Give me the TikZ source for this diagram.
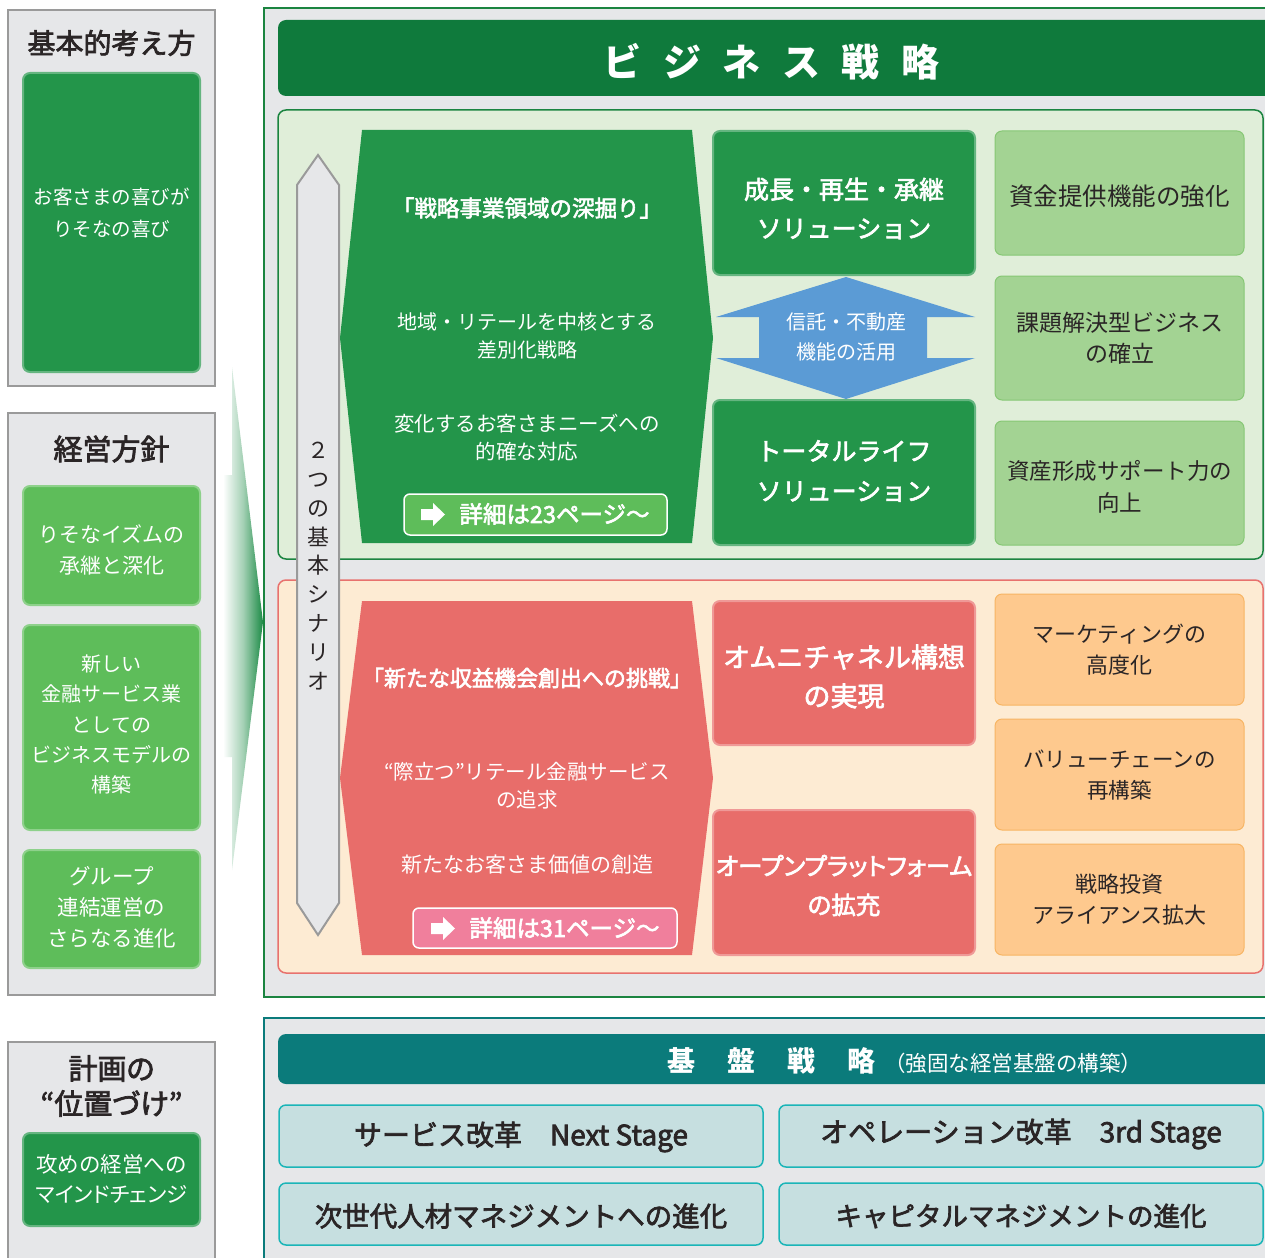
\documentclass[tikz,border=0pt]{standalone}
\usepackage{fontspec}
\setmainfont{Noto Sans CJK JP}
\newfontfamily\pf{Noto Sans CJK JP}[RawFeature=+palt]
\newfontfamily\mf{Noto Sans CJK JP}[FakeBold=2.5]
\newfontfamily\mpf{Noto Sans CJK JP}[FakeBold=2.5,RawFeature=+palt]
\newcommand{\myfs}[2]{\fontsize{#1}{#2}\selectfont}
\definecolor{lgray}{HTML}{E6E7E9}
\definecolor{bgray}{HTML}{9A9A9A}
\definecolor{dgreen}{HTML}{23954A}
\definecolor{hgreen}{HTML}{0F7A3C}
\definecolor{mainborder}{HTML}{1B8440}
\definecolor{mgreen}{HTML}{5EBD5A}
\definecolor{gpanel}{HTML}{E0EED9}
\definecolor{lgbox}{HTML}{A3D393}
\definecolor{lgboxb}{HTML}{86C774}
\definecolor{bluearr}{HTML}{5B9BD5}
\definecolor{redbox}{HTML}{E86D6A}
\definecolor{pinkbtn}{HTML}{F07F9C}
\definecolor{opanel}{HTML}{FDEBD3}
\definecolor{oborder}{HTML}{E8726E}
\definecolor{obox}{HTML}{FEC98E}
\definecolor{oboxb}{HTML}{F7B563}
\definecolor{teal}{HTML}{0B7B7B}
\definecolor{tealbox}{HTML}{C6DFE0}
\definecolor{tealboxb}{HTML}{1AB5B8}
\definecolor{txtdark}{HTML}{2A2526}
\definecolor{arrgreen}{HTML}{1B8A45}
\begin{document}
\begin{tikzpicture}[x=1pt,y=-1pt,
  outerbox/.style={draw=bgray, fill=lgray, line width=1.6},
  titletxt/.style={text=txtdark, font=\mf\myfs{29}{35}, align=center, inner sep=0},
  basebox/.style={rounded corners=7, line width=2, inner sep=0},
  dgbox/.style={basebox, fill=dgreen, draw=dgreen!70!white},
  mgbox/.style={basebox, fill=mgreen, draw=mgreen!70!white},
  rdbox/.style={basebox, fill=redbox, draw=redbox!70!white},
  lgbx/.style={basebox, line width=1, fill=lgbox, draw=lgboxb},
  orbx/.style={basebox, line width=1, fill=obox, draw=oboxb},
  tlbx/.style={basebox, line width=1.5, fill=tealbox, draw=tealboxb},
  wtxt/.style={text=white, align=center, inner sep=0},
  dtxt/.style={text=txtdark, align=center, inner sep=0},
  btn/.style={rounded corners=6, draw=white, line width=1.5, inner sep=0},
]
\useasboundingbox (0,0) rectangle (1265,1257);
\fill[white] (0,0) rectangle (1265,1257);

% ---------- left column ----------
\node[outerbox, minimum width=207, minimum height=376] (o1) at (111.5,198) {};
\node[titletxt, font=\mf\myfs{28}{35}] (o1t) at (111.5,43) {基本的考え方};
\node[dgbox, minimum width=177, minimum height=299] (g1) at (111.5,222.5) {};
\node[wtxt, font=\myfs{19.5}{32}] (g1t) at (111.5,213) {お客さまの喜びが\\りそなの喜び};

\node[outerbox, minimum width=207, minimum height=582] (o2) at (111.5,704) {};
\node[titletxt] (o2t) at (111.5,449) {経営方針};
\node[mgbox, minimum width=177, minimum height=119] (g2a) at (111.5,545.5) {};
\node[wtxt, font=\myfs{21}{31}] (g2at) at (111.5,549.5) {りそなイズムの\\承継と深化};
\node[mgbox, minimum width=177, minimum height=205] (g2b) at (111.5,727.5) {};
\node[wtxt, font=\myfs{20}{30.2}] (g2bt) at (111.5,724.5) {新しい\\金融サービス業\\としての\\ビジネスモデルの\\構築};
\node[mgbox, minimum width=177, minimum height=118] (g2c) at (111.5,909) {};
\node[wtxt, font=\myfs{21.5}{31}] (g2ct) at (111.5,907) {グループ\\連結運営の\\さらなる進化};

\node[outerbox, minimum width=207, minimum height=240] (o3) at (111.5,1162) {};
\node[titletxt, font=\mpf\myfs{29}{35}] (o3t) at (111.5,1086) {計画の\\“位置づけ”};
\node[dgbox, minimum width=177, minimum height=93] (g3) at (111.5,1179.5) {};
\node[wtxt, font=\myfs{21.5}{30}] (g3t) at (111.5,1179) {攻めの経営への\\{\pf マインドチェンジ}};

% big gradient arrow
\shade[left color=white, right color=arrgreen, middle color=arrgreen!40!white]
  (223,475) -- (232,475) -- (232,367) -- (263,622) -- (232,870) -- (232,757) -- (223,757) -- cycle;

% ---------- business strategy ----------
\draw[fill=lgray, draw=mainborder, line width=2] (264,8) rectangle (1285,997);
\node[rounded corners=8, fill=hgreen, minimum width=1007, minimum height=76, inner sep=0] (hdr) at (781.5,58) {};
\node[wtxt, font=\myfs{38}{44}\bfseries] (hdrt) at (771.5,62) {\makebox[59.5pt]{ビ}\makebox[59.5pt]{ジ}\makebox[59.5pt]{ネ}\makebox[59.5pt]{ス}\makebox[59.5pt]{戦}\makebox[59.5pt]{略}};

% green panel
\draw[rounded corners=8, fill=gpanel, draw=mainborder, line width=1.5] (278,110) rectangle (1263,559);
% orange panel
\draw[rounded corners=8, fill=opanel, draw=oborder, line width=1.5] (278,580) rectangle (1263,973);

% vertical double arrow
\draw[fill=lgray, draw=bgray, line width=2] (318,155) -- (339,185) -- (339,903) -- (318,935) -- (297,903) -- (297,185) -- cycle;
\node[dtxt, font=\myfs{22}{28.8}] (scen) at (318,566) {２\\つ\\の\\基\\本\\シ\\ナ\\リ\\オ};

% green hexagon
\fill[dgreen] (362,130) -- (692,130) -- (713,338) -- (692,543) -- (362,543) -- (340,338) -- cycle;
\node[wtxt, font=\mf\myfs{22.5}{28}] (gh1) at (527,208) {「戦略事業領域の深掘り」};
\node[wtxt, font=\myfs{20}{28}] (gh2) at (527,336) {地域・リテールを中核とする\\差別化戦略};
\node[wtxt, font=\myfs{20.5}{28}] (gh3) at (527,438) {変化するお客さまニーズへの\\的確な対応};
\node[btn, fill=mgreen, minimum width=263, minimum height=41] (b1) at (535.5,514.5) {};
\fill[white] (421,509) -- (433,509) -- (433,503) -- (445,514.5) -- (433,526) -- (433,520) -- (421,520) -- cycle;
\node[wtxt, font=\mf\myfs{23.5}{26}] (b1t) at (554.5,514) {詳細は23ページ〜};

% dark green boxes + blue arrow
\node[dgbox, minimum width=262, minimum height=144] (s1) at (844,203) {};
\node[wtxt, font=\mf\myfs{25}{39}] (s1t) at (844,208.5) {成長・再生・承継\\ソリューション};
\node[dgbox, minimum width=262, minimum height=145] (s2) at (844,472.5) {};
\node[wtxt, font=\mf\myfs{25}{40}] (s2t) at (844,471) {トータルライフ\\ソリューション};
\fill[bluearr] (846,277) -- (975,317) -- (927,317) -- (927,358) -- (975,358) -- (846,399) -- (716,358) -- (759,358) -- (759,317) -- (716,317) -- cycle;
\node[wtxt, font=\myfs{20}{30}] (bl) at (846,337) {信託・不動産\\機能の活用};

% light green boxes
\node[lgbx, minimum width=249, minimum height=124] (r1) at (1119.5,193) {};
\node[dtxt, font=\myfs{24.5}{31}] (r1t) at (1119.5,196) {資金提供機能の強化};
\node[lgbx, minimum width=249, minimum height=124] (r2) at (1119.5,338) {};
\node[dtxt, font=\myfs{23}{31}] (r2t) at (1119.5,338.5) {課題解決型ビジネス\\の確立};
\node[lgbx, minimum width=249, minimum height=124] (r3) at (1119.5,483) {};
\node[dtxt, font=\myfs{22.5}{32}] (r3t) at (1119.5,487) {資産形成サポート力の\\向上};

% red hexagon
\fill[redbox] (362,601) -- (692,601) -- (713,778) -- (692,955) -- (362,955) -- (340,778) -- cycle;
\node[wtxt, font=\mf\myfs{22}{28}] (rh1) at (527,678) {「新たな収益機会創出への挑戦」};
\node[wtxt, font=\myfs{20.5}{28}] (rh2) at (527,786) {“際立つ”リテール金融サービス\\の追求};
\node[wtxt, font=\myfs{21}{28}] (rh3) at (527,865) {新たなお客さま価値の創造};
\node[btn, fill=pinkbtn, minimum width=264, minimum height=40] (b2) at (545,928) {};
\fill[white] (431,923) -- (443,923) -- (443,917) -- (455,928.5) -- (443,940) -- (443,934) -- (431,934) -- cycle;
\node[wtxt, font=\mf\myfs{23.5}{26}] (b2t) at (564.5,928) {詳細は31ページ〜};

% red boxes
\node[rdbox, minimum width=262, minimum height=144] (ro1) at (844,673) {};
\node[wtxt, font=\mf\myfs{27}{39}] (ro1t) at (844,676.5) {オムニチャネル構想\\の実現};
\node[rdbox, minimum width=262, minimum height=145] (ro2) at (844,882.5) {};
\node[wtxt, font=\mpf\myfs{24.5}{39}] (ro2t) at (844,885.5) {オープンプラットフォーム\\の拡充};

% orange boxes
\node[orbx, minimum width=249, minimum height=111] (q1) at (1119.5,649.5) {};
\node[dtxt, font=\myfs{22}{31}] (q1t) at (1119.5,649.5) {マーケティングの\\高度化};
\node[orbx, minimum width=249, minimum height=111] (q2) at (1119.5,774.5) {};
\node[dtxt, font=\myfs{21.5}{31}] (q2t) at (1119.5,775) {バリューチェーンの\\再構築};
\node[orbx, minimum width=249, minimum height=111] (q3) at (1119.5,899.5) {};
\node[dtxt, font=\myfs{22}{31}] (q3t) at (1119.5,899.5) {戦略投資\\アライアンス拡大};

% ---------- base strategy ----------
\draw[fill=lgray, draw=teal, line width=2] (264,1018) rectangle (1285,1275);
\node[rounded corners=8, fill=teal, minimum width=1007, minimum height=50, inner sep=0] (bh) at (781.5,1059) {};
\node[wtxt, font=\myfs{28}{32}\bfseries] (bht) at (771.5,1061) {\makebox[60.3pt]{基}\makebox[60.3pt]{盤}\makebox[60.3pt]{戦}\makebox[60.3pt]{略}};
\node[wtxt, font=\myfs{21.5}{26}] (bhs) at (1013,1063) {（強固な経営基盤の構築）};
\node[tlbx, minimum width=484, minimum height=62] (t1) at (521,1136) {};
\node[dtxt, font=\mf\myfs{28}{34}] (t1t) at (521,1137) {サービス改革　Next Stage};
\node[tlbx, minimum width=484, minimum height=62] (t2) at (1021,1136) {};
\node[dtxt, font=\mf\myfs{28}{34}] (t2t) at (1021,1134) {オペレーション改革　3rd Stage};
\node[tlbx, minimum width=484, minimum height=62] (t3) at (521,1214) {};
\node[dtxt, font=\mf\myfs{27.5}{34}] (t3t) at (521,1216) {次世代人材マネジメントへの進化};
\node[tlbx, minimum width=484, minimum height=62] (t4) at (1021,1214) {};
\node[dtxt, font=\mf\myfs{26.5}{34}] (t4t) at (1021,1216) {キャピタルマネジメントの進化};
\end{tikzpicture}
\end{document}
